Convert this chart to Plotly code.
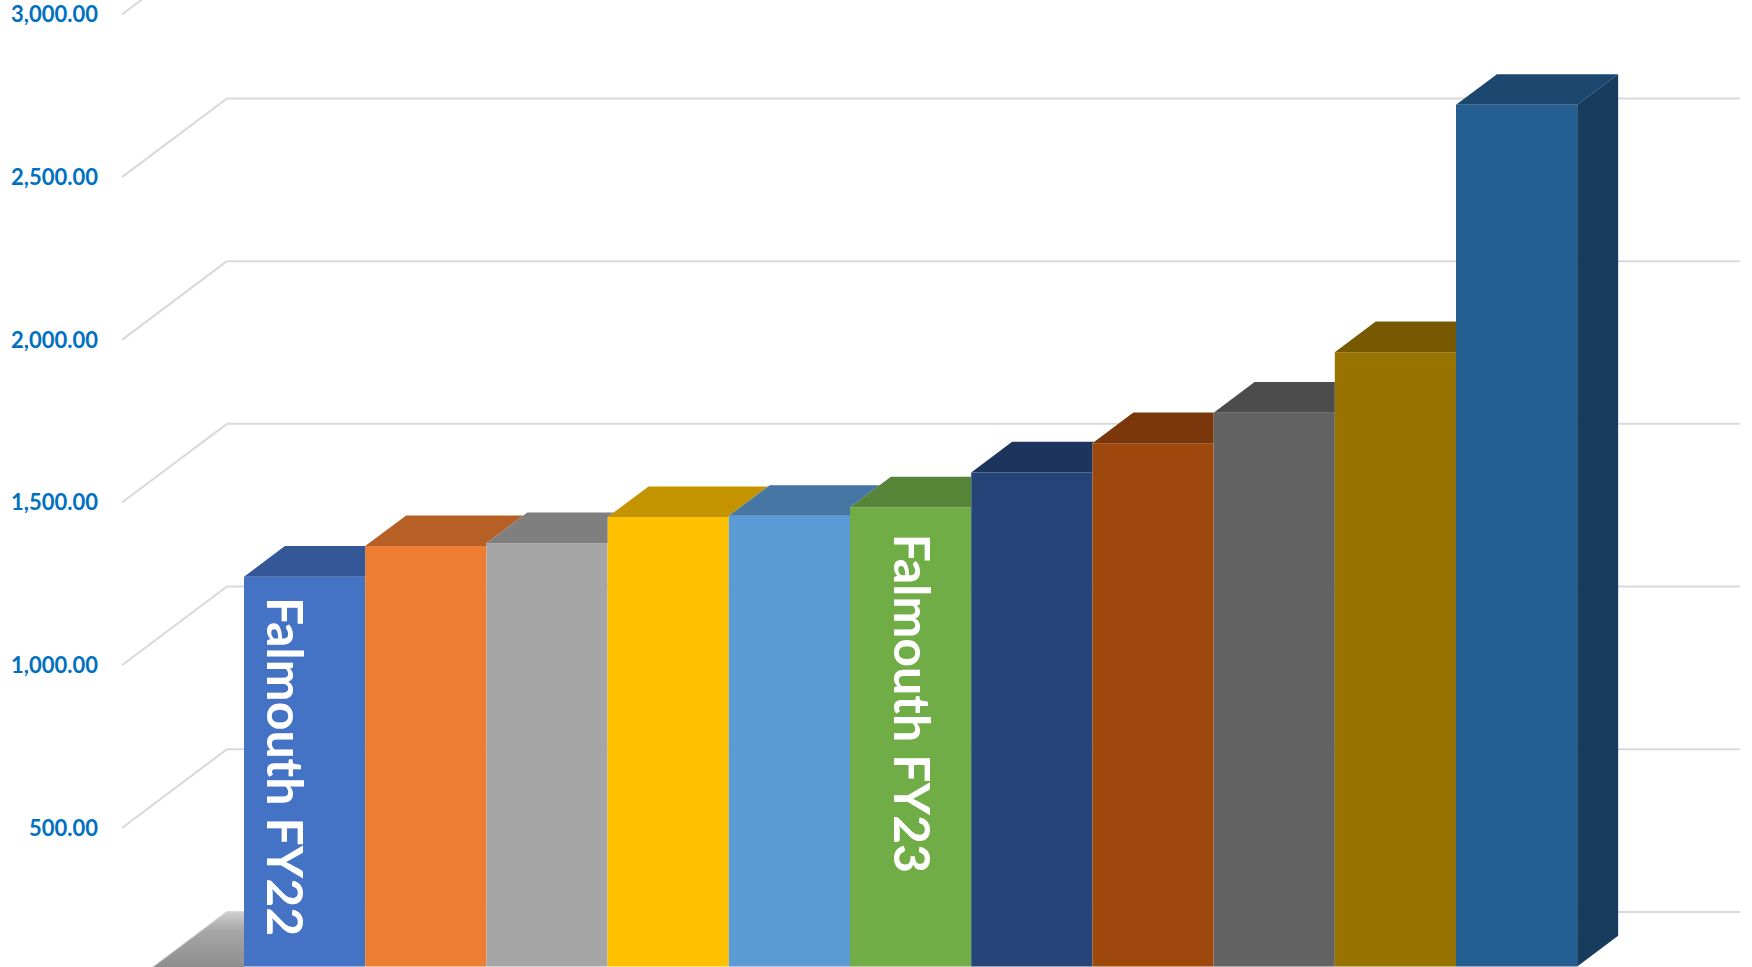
import plotly.graph_objects as go

# ---------------- data ----------------
series_labels = ["Falmouth FY22", "", "", "", "", "Falmouth FY23", "", "", "", "", ""]
values = [1198, 1292, 1301, 1381, 1385, 1411, 1518, 1608, 1702, 1888, 2648]
colors = ["#4472C4", "#ED7D31", "#A5A5A5", "#FFC000", "#5B9BD5", "#70AD47",
          "#264478", "#9E480E", "#636363", "#997300", "#255E91"]
y_ticks = [500, 1000, 1500, 2000, 2500, 3000]

# ---------------- layout geometry (pixels) ----------------
W, H = 1752, 967
L_MARGIN = 99
PX_PER_X = 121.2          # one bar width
PX_PER_V = 0.3254         # pixels per value unit
BAR_LEFT_PX = 244         # left edge of first bar front face
BAR_ZERO_PX = 966.5       # zero line of bar front faces
DEPTH_PX_X, DEPTH_PX_Y = 105.0, 78.7   # full depth of the floor
D1, D2 = 0.307, 0.697     # depth span of the bars
WALL_GAP = 0.741          # gap between wall edge and first/last bar (bar units)

DX = DEPTH_PX_X / PX_PER_X
DY = DEPTH_PX_Y / PX_PER_V


def proj(x, v, d):
    return x + (d - D1) * DX, v + (d - D1) * DY


def shade(hexcol, f):
    h = hexcol.lstrip("#")
    r, g, b = (int(h[i:i + 2], 16) for i in (0, 2, 4))
    return "rgb(%d,%d,%d)" % (round(r * f), round(g * f), round(b * f))


n = len(values)
xs = list(range(n))
XMIN = -0.5 - WALL_GAP
XMAX = n - 0.5 + WALL_GAP

x0 = -0.5 - (BAR_LEFT_PX - L_MARGIN) / PX_PER_X
x1 = x0 + (W - L_MARGIN) / PX_PER_X
y0 = -(H - BAR_ZERO_PX) / PX_PER_V
y1 = y0 + H / PX_PER_V
front_off = D1 * DY

fig = go.Figure()

# floor (visible part left of the first bar)
F0 = proj(XMIN, 0, 0)
B0 = proj(XMIN, 0, 1)
fl = [F0, (-0.5, F0[1]), (-0.5, B0[1]), B0, F0]
fig.add_trace(go.Scatter(
    x=[p[0] for p in fl], y=[p[1] for p in fl], mode="lines", fill="toself",
    line=dict(width=0), fillcolor="#a0a0a0",
    fillgradient=dict(type="vertical", start=0, stop=B0[1],
                      colorscale=[[0, "#8e8e8e"], [0.65, "#a6a6a6"], [1, "#cfcfcf"]]),
    hoverinfo="skip", showlegend=False))

# front faces: the bars
fig.add_trace(go.Bar(
    x=xs, y=values, width=1, marker=dict(color=colors, line=dict(width=0)),
    hovertext=series_labels, showlegend=False))

# top / side faces
dxb = (D2 - D1) * DX
dyb = (D2 - D1) * DY
for i in xs:
    v = values[i]
    xl, xr = i - 0.5, i + 0.5
    nxt = values[i + 1] if i < n - 1 else None
    if nxt is None or nxt <= v:
        top = [(xl, v), (xr, v), (xr + dxb, v + dyb), (xl + dxb, v + dyb)]
    elif nxt < v + dyb:
        t = (v + dyb - nxt) / dyb
        top = [(xl, v), (xr, v), (xr, nxt), (xr + dxb * t, v + dyb), (xl + dxb, v + dyb)]
    else:
        top = [(xl, v), (xr, v), (xr, v + dyb), (xl + dxb, v + dyb)]
    top.append(top[0])
    fig.add_trace(go.Scatter(
        x=[p[0] for p in top], y=[p[1] for p in top], mode="lines", fill="toself",
        line=dict(width=0), fillcolor=shade(colors[i], 0.77),
        hoverinfo="skip", showlegend=False))
    side = None
    if nxt is None:
        side = [(xr, 0), (xr, v), (xr + dxb, v + dyb), (xr + dxb, dyb)]
    elif nxt < v:
        side = [(xr, nxt), (xr, v), (xr + dxb, v + dyb), (xr + dxb, nxt + dyb)]
    if side:
        side.append(side[0])
        fig.add_trace(go.Scatter(
            x=[p[0] for p in side], y=[p[1] for p in side], mode="lines", fill="toself",
            line=dict(width=0), fillcolor=shade(colors[i], 0.64),
            hoverinfo="skip", showlegend=False))

# invisible trace to carry the front-plane value axis
fig.add_trace(go.Scatter(x=[0], y=[y_ticks[0]], yaxis="y2", mode="markers",
                         marker=dict(opacity=0), hoverinfo="skip", showlegend=False))

# gridlines on back wall and left wall
shapes = []
for g in [0] + y_ticks:
    a = proj(XMIN, g, 1)
    b = proj(XMAX, g, 1)
    c = proj(XMIN, g, 0)
    for p, q in ((a, b), (c, a)):
        shapes.append(dict(type="line", xref="x", yref="y", layer="below",
                           x0=p[0], y0=p[1], x1=q[0], y1=q[1],
                           line=dict(color="#D9D9D9", width=2)))

# rotated data labels
label_shift = {0: (-18, -190), 5: (2, -196)}
annotations = []
for i, lab in enumerate(series_labels):
    if not lab:
        continue
    sx, sy = label_shift.get(i, (0, -190))
    annotations.append(dict(
        x=xs[i], y=values[i], xref="x", yref="y", text=lab, showarrow=False,
        textangle=90, xanchor="center", yanchor="middle", xshift=sx, yshift=sy,
        font=dict(family="Lato", size=50, color="white", weight="bold")))

fig.update_layout(
    width=W, height=H, margin=dict(l=L_MARGIN, r=0, t=0, b=0),
    paper_bgcolor="white", plot_bgcolor="white",
    xaxis=dict(range=[x0, x1], visible=False, fixedrange=True),
    yaxis=dict(range=[y0, y1], showticklabels=False, showgrid=False,
               zeroline=False, showline=False, ticks="", fixedrange=True),
    yaxis2=dict(range=[y0 + front_off, y1 + front_off], overlaying="y", side="left",
                tickvals=y_ticks, ticktext=["{:,.2f}".format(t) for t in y_ticks],
                showgrid=False, zeroline=False, showline=False, ticks="",
                tickfont=dict(family="Lato", size=22, color="#0070C0", weight="bold"),
                fixedrange=True),
    shapes=shapes, annotations=annotations, showlegend=False,
)

fig.write_html("out.html", config={"displayModeBar": False})
